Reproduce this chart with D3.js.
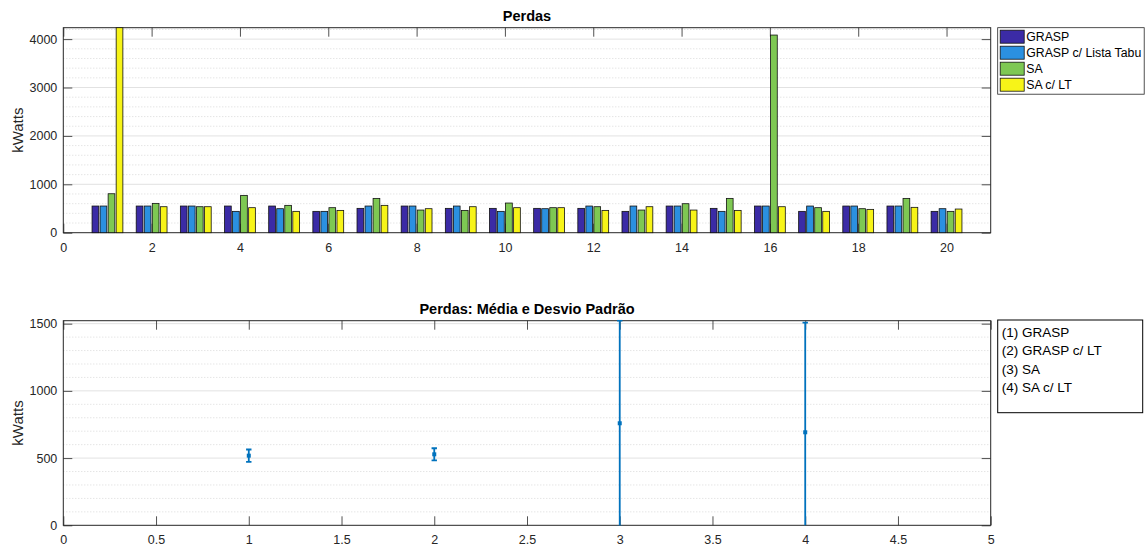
<!DOCTYPE html>
<html>
<head>
<meta charset="utf-8">
<script src="https://cdn.jsdelivr.net/npm/d3@7"></script>
<style>
  body { margin: 0; background: #fff; }
  svg { display: block; font-family: "Liberation Sans", Arial, Helvetica, sans-serif; }
  .tick text { fill: #262626; }
</style>
</head>
<body>
<div id="chart"></div>
<script>
// Data
const runs = d3.range(1, 21);
const seriesNames = ["GRASP", "GRASP c/ Lista Tabu", "SA", "SA c/ LT"];
const grasp   = [551, 551, 551, 551, 551, 441, 503, 551, 503, 503, 503, 503, 441, 551, 503, 551, 441, 551, 551, 441];
const graspLT = [551, 551, 551, 441, 496, 441, 551, 551, 551, 441, 496, 551, 551, 551, 441, 551, 551, 551, 551, 496];
const sa      = [805, 606, 537, 771, 565, 517, 709, 468, 461, 613, 517, 537, 468, 599, 709, 4084, 517, 496, 709, 441];
const saLT    = [4236, 537, 537, 517, 441, 461, 565, 496, 537, 517, 517, 461, 537, 468, 461, 537, 441, 482, 524, 489];
const seriesColors = ["#3b2ba6", "#2b90e0", "#7ec853", "#f7f418"];

const methodLabels = ["(1) GRASP", "(2) GRASP c/ LT", "(3) SA", "(4) SA c/ LT"];
const methodIdx = [1, 2, 3, 4];
const means = [518, 528, 759, 692];
const stds  = [46, 45, 763, 815];

const topXTicks = d3.range(0, 21, 2);
const topYTicks = [0, 1000, 2000, 3000, 4000];
const botXTicks = d3.range(0, 5.01, 0.5);
const botYTicks = [0, 500, 1000, 1500];

const width = 1148, height = 547;
const axisColor = "#262626";
const fontStack = '"Liberation Sans", Arial, Helvetica, sans-serif';

const svg = d3.select("#chart").append("svg")
    .attr("width", width)
    .attr("height", height);

// draws box, grid, ticks for one MATLAB-like axes
function drawAxes(box, x, y, xTicks, yTicks, minorStep, title) {
    const g = svg.append("g");
    const yMax = y.domain()[1];

    // minor grid (dotted)
    const minor = d3.range(0, yMax, minorStep).filter(v => !yTicks.includes(v));
    g.selectAll(".minor").data(minor).enter().append("line")
        .attr("x1", box.l).attr("x2", box.r)
        .attr("y1", d => y(d)).attr("y2", d => y(d))
        .attr("stroke", "#d0d0d0").attr("stroke-width", 0.8)
        .attr("stroke-dasharray", "1,2");
    // major grid
    g.selectAll(".major").data(yTicks.filter(v => v > 0)).enter().append("line")
        .attr("x1", box.l).attr("x2", box.r)
        .attr("y1", d => y(d)).attr("y2", d => y(d))
        .attr("stroke", "#e2e2e2").attr("stroke-width", 1);

    const tick = 9;
    const ax = g.append("g");
    ax.append("g").attr("transform", `translate(0,${box.b})`)
        .call(d3.axisBottom(x).tickValues(xTicks).tickSize(-tick).tickPadding(10).tickFormat(d3.format("~g")));
    ax.append("g").attr("transform", `translate(0,${box.t})`)
        .call(d3.axisTop(x).tickValues(xTicks).tickSize(-tick).tickFormat(""));
    ax.append("g").attr("transform", `translate(${box.l},0)`)
        .call(d3.axisLeft(y).tickValues(yTicks).tickSize(-tick).tickPadding(6).tickFormat(d3.format("d")));
    ax.append("g").attr("transform", `translate(${box.r},0)`)
        .call(d3.axisRight(y).tickValues(yTicks).tickSize(-tick).tickFormat(""));
    ax.selectAll(".domain").remove();
    ax.selectAll(".tick line").attr("stroke", axisColor).attr("stroke-width", 0.8);
    ax.selectAll(".tick text").attr("font-size", 12.5).attr("font-family", fontStack);

    // axes box
    g.append("rect")
        .attr("x", box.l).attr("y", box.t)
        .attr("width", box.r - box.l).attr("height", box.b - box.t)
        .attr("fill", "none").attr("stroke", axisColor).attr("stroke-width", 1);

    svg.append("text")
        .attr("x", (box.l + box.r) / 2).attr("y", box.t - 7)
        .attr("text-anchor", "middle")
        .attr("font-size", 14.5).attr("font-weight", "bold").attr("fill", "#000")
        .text(title);

    svg.append("text")
        .attr("transform", `translate(23,${(box.t + box.b) / 2}) rotate(-90)`)
        .attr("text-anchor", "middle")
        .attr("font-size", 15).attr("fill", axisColor)
        .text("kWatts");
    return g;
}

// ---- top: grouped bars ----
const topBox = { l: 63.3, r: 990.7, t: 27.7, b: 232.7 };
const allSeries = [grasp, graspLT, sa, saLT];
const x1 = d3.scaleLinear().domain([0, 21]).range([topBox.l, topBox.r]);
const y1 = d3.scaleLinear().domain([0, d3.max(allSeries.flat())]).range([topBox.b, topBox.t]);

drawAxes(topBox, x1, y1, topXTicks, topYTicks, 200, "Perdas");

const slot = 0.182, barW = 0.152;
const barsG = svg.append("g");
allSeries.forEach((vals, si) => {
    barsG.selectAll(null).data(vals).enter().append("rect")
        .attr("x", (d, i) => x1(runs[i] + (si - 1.5) * slot - barW / 2))
        .attr("y", d => y1(d))
        .attr("width", x1(barW) - x1(0))
        .attr("height", d => y1(0) - y1(d))
        .attr("fill", seriesColors[si])
        .attr("stroke", "#111").attr("stroke-width", 0.8);
});

// legend top
const lg1 = svg.append("g").attr("transform", "translate(997.7,27.7)");
lg1.append("rect").attr("width", 146.5).attr("height", 66.5)
    .attr("fill", "#fff").attr("stroke", axisColor).attr("stroke-width", 0.8);
seriesNames.forEach((name, i) => {
    lg1.append("rect").attr("x", 2.5).attr("y", 2.5 + i * 16)
        .attr("width", 24).attr("height", 13)
        .attr("fill", seriesColors[i]).attr("stroke", "#111").attr("stroke-width", 0.8);
    lg1.append("text").attr("x", 28.5).attr("y", 13.5 + i * 16)
        .attr("font-size", 12.3).attr("fill", "#000")
        .text(name);
});

// ---- bottom: mean / std error bars ----
const botBox = { l: 63.3, r: 990.7, t: 320.7, b: 525.3 };
const x2 = d3.scaleLinear().domain([0, 5]).range([botBox.l, botBox.r]);
const y2 = d3.scaleLinear().domain([0, d3.max(means, (m, i) => m + stds[i])]).range([botBox.b, botBox.t]);

drawAxes(botBox, x2, y2, botXTicks, botYTicks, 100, "Perdas: Média e Desvio Padrão");

svg.append("clipPath").attr("id", "clipBot").append("rect")
    .attr("x", botBox.l).attr("y", botBox.t - 1)
    .attr("width", botBox.r - botBox.l).attr("height", botBox.b - botBox.t + 1);

const errColor = "#0072bd";
const eb = svg.append("g").attr("clip-path", "url(#clipBot)");
const capW = 2.7;
means.forEach((m, i) => {
    const cx = x2(methodIdx[i]);
    const lo = y2(m - stds[i]), hi = y2(m + stds[i]);
    eb.append("line").attr("x1", cx).attr("x2", cx).attr("y1", lo).attr("y2", hi)
        .attr("stroke", errColor).attr("stroke-width", 1.8);
    [lo, hi].forEach(yy => eb.append("line")
        .attr("x1", cx - capW).attr("x2", cx + capW).attr("y1", yy).attr("y2", yy)
        .attr("stroke", errColor).attr("stroke-width", 1.8));
    eb.append("rect").attr("x", cx - 2).attr("y", y2(m) - 2).attr("width", 4).attr("height", 4)
        .attr("fill", errColor);
});

// legend bottom (text box)
const lg2 = svg.append("g").attr("transform", "translate(997.7,320)");
lg2.append("rect").attr("width", 145).attr("height", 92.7)
    .attr("fill", "#fff").attr("stroke", "#000").attr("stroke-width", 1);
methodLabels.forEach((t, i) => {
    lg2.append("text").attr("x", 4).attr("y", 17 + i * 18.4)
        .attr("font-size", 13.5).attr("fill", "#000")
        .text(t);
});
</script>
</body>
</html>
